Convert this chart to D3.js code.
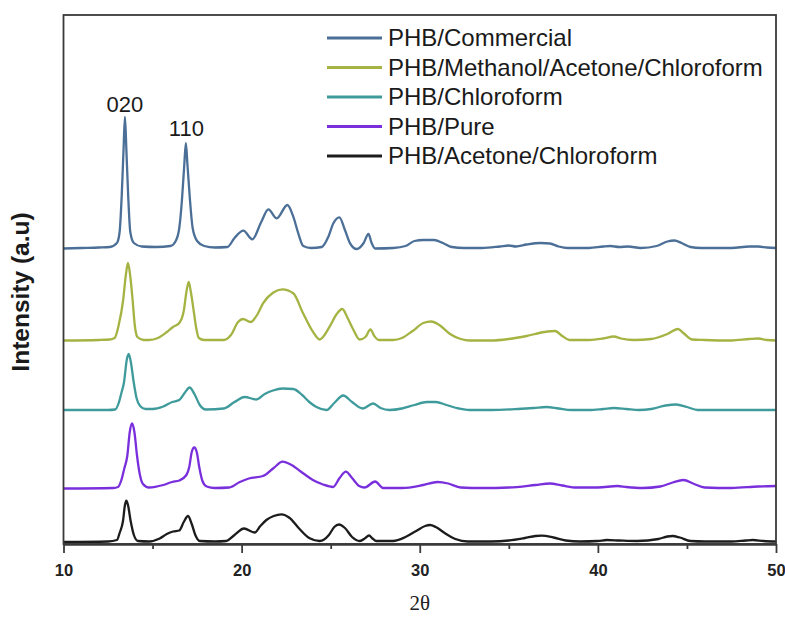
<!DOCTYPE html>
<html>
<head>
<meta charset="utf-8">
<script src="https://cdn.jsdelivr.net/npm/d3@7/dist/d3.min.js"></script>
<style>
  html, body { margin: 0; padding: 0; background: #fff; }
  svg { display: block; }
</style>
</head>
<body>
<svg id="chart" width="785" height="617"></svg>
<script>
// XRD patterns of PHB samples, [2θ (deg), intensity (a.u., stacked)]
const seriesNames = [
  "PHB/Commercial",
  "PHB/Methanol/Acetone/Chloroform",
  "PHB/Chloroform",
  "PHB/Pure",
  "PHB/Acetone/Chloroform"
];

const commercial = [
  [10, 295.5], [11, 296], [12, 296.5], [12.6, 297], [13.0, 301], [13.15, 312], [13.27, 349],
  [13.37, 394], [13.45, 427], [13.53, 394], [13.63, 349], [13.75, 312], [13.95, 301], [14.4, 297.5],
  [15.2, 297], [16.0, 298], [16.3, 303], [16.5, 316], [16.65, 344], [16.78, 379], [16.87, 401],
  [16.96, 379], [17.1, 344], [17.25, 316], [17.5, 303], [17.9, 298], [18.5, 296.5],
  [19.2, 297], [19.6, 306], [20.1, 313.3], [20.6, 304.7], [21.1, 322], [21.5, 334.7], [21.97, 325.7],
  [22.57, 339], [22.9, 327.3], [23.18, 310.7], [23.46, 298], [23.9, 296], [24.5, 297], [24.87, 307.3],
  [25.15, 320.7], [25.49, 326.7], [25.8, 314], [26.09, 300.7], [26.46, 295], [26.85, 301], [27.12, 310],
  [27.3, 301], [27.49, 295.5], [28.5, 296], [29.2, 298], [29.7, 303], [30.2, 304], [30.8, 304],
  [31.3, 301], [31.8, 297], [32.5, 296], [33.5, 296], [34.5, 297.5], [35.0, 298.5], [35.4, 297.5],
  [36.0, 299.5], [36.8, 301], [37.3, 300.5], [37.8, 297.5], [38.3, 296], [39.5, 296], [40.3, 297.5],
  [40.7, 298], [41.2, 297], [41.7, 297.5], [42.4, 296], [43.3, 298], [43.9, 302.5], [44.3, 303.5],
  [44.7, 301], [45.2, 297], [45.8, 296], [47.5, 296], [48.5, 297.5], [49.0, 297.5], [49.5, 296.5], [50, 296]
];

const methanolAcetoneChloroform = [
  [10, 203.5], [12.0, 204], [12.6, 204.5], [12.87, 206], [13.1, 219], [13.35, 244], [13.5, 269],
  [13.62, 281], [13.74, 269], [13.88, 244], [14.0, 219], [14.15, 207], [14.5, 204], [14.8, 204],
  [15.3, 206], [15.8, 212], [16.15, 217], [16.5, 221], [16.75, 233], [16.9, 252], [17.03, 262],
  [17.15, 252], [17.31, 233], [17.45, 216], [17.6, 206], [17.9, 204], [19.0, 204], [19.4, 209],
  [19.8, 222], [20.08, 225], [20.5, 222], [20.9, 230], [21.2, 240.7], [21.76, 251.3], [22.29, 254.7],
  [22.9, 250.7], [23.45, 230.7], [24.0, 212.3], [24.38, 204.5], [24.94, 217.3], [25.3, 229], [25.65, 235],
  [25.95, 226], [26.28, 214], [26.63, 204.5], [26.95, 207], [27.23, 214.5], [27.45, 208], [27.7, 204],
  [28.5, 204], [29.0, 206], [29.6, 213], [30.2, 221], [30.65, 222.5], [31.1, 219], [31.7, 210],
  [32.3, 205], [32.8, 203.5], [34.0, 203.5], [35.0, 205], [36.0, 208], [37.0, 212], [37.6, 213],
  [38.0, 208], [38.4, 204], [39.5, 204], [40.3, 205.5], [40.9, 207.5], [41.3, 205.5], [42.0, 204],
  [43.0, 205], [43.9, 210], [44.5, 215], [44.8, 211], [45.3, 204.5], [46.0, 204], [47.5, 203.5],
  [48.5, 205], [49.0, 205.5], [49.5, 204], [50, 203.5]
];

const chloroform = [
  [10, 134], [12.5, 134], [12.9, 134.5], [13.1, 141], [13.25, 151], [13.4, 162], [13.55, 184],
  [13.66, 190], [13.78, 182], [13.94, 162], [14.1, 146], [14.3, 138], [14.6, 135], [15.0, 135],
  [15.6, 137.5], [16.1, 142], [16.5, 144], [16.8, 151], [17.08, 156.5], [17.35, 150], [17.65, 139],
  [18.0, 134.5], [19.0, 135.5], [19.6, 142], [20.17, 147], [20.83, 144.5], [21.3, 150], [21.76, 153.5],
  [22.3, 155.5], [22.9, 155], [23.4, 149], [23.8, 142], [24.2, 137], [24.76, 134], [25.2, 141],
  [25.7, 148.5], [26.2, 142], [26.8, 135.5], [27.38, 140.5], [27.8, 136], [28.3, 134], [29.0, 135.5],
  [29.7, 139], [30.4, 142], [30.9, 142], [31.5, 139], [32.2, 135.5], [32.8, 134], [34.0, 134],
  [35.5, 135], [36.4, 136], [37.1, 137], [37.8, 135.5], [38.5, 134], [39.5, 134], [40.3, 135],
  [40.9, 136], [41.6, 135], [42.3, 134], [43.0, 135], [43.8, 138.5], [44.4, 139.5], [45.0, 137],
  [45.6, 134], [50, 134]
];

const pure = [
  [10, 55.5], [12.8, 56], [13.06, 57], [13.25, 64], [13.42, 76], [13.58, 88], [13.72, 112],
  [13.85, 120.5], [13.98, 112], [14.13, 88], [14.28, 70], [14.46, 60], [14.8, 56.5], [15.6, 59],
  [16.1, 62], [16.5, 63.5], [16.9, 69], [17.06, 77], [17.2, 92], [17.34, 96.5], [17.48, 92],
  [17.62, 77], [17.8, 63], [18.04, 57.5], [18.5, 56], [19.3, 56.5], [19.9, 62], [20.4, 65.5],
  [21.2, 68], [21.8, 76], [22.3, 82.3], [22.8, 79], [23.45, 70.7], [24.0, 64], [24.57, 59.5],
  [25.13, 57], [25.5, 66], [25.85, 72.3], [26.2, 66], [26.6, 58], [26.9, 56.5], [27.5, 62.5],
  [27.94, 56], [29.0, 56], [30.2, 59], [31.0, 62], [31.6, 60.5], [32.3, 56.5], [33.5, 56],
  [35.0, 56.5], [36.5, 59], [37.3, 60.5], [38.0, 58.5], [38.8, 56.5], [40.0, 56.5], [41.1, 58],
  [41.6, 57], [42.5, 56], [43.5, 57.5], [44.2, 61.5], [44.8, 64], [45.4, 60], [46.0, 56.5],
  [47.5, 56], [49.0, 57.5], [50, 58]
];

const acetoneChloroform = [
  [10, 2], [12.5, 2.5], [13.0, 4], [13.15, 11], [13.34, 23], [13.45, 39], [13.53, 43.3],
  [13.62, 39], [13.77, 23], [13.95, 9], [14.18, 3], [14.8, 2.5], [15.4, 5.5], [15.8, 10],
  [16.15, 12.5], [16.5, 13.5], [16.75, 22], [16.99, 28], [17.2, 20], [17.4, 9], [17.65, 3],
  [18.5, 2.5], [19.14, 3], [19.6, 9], [20.13, 15.5], [20.73, 11.5], [21.05, 18], [21.39, 24],
  [21.8, 28], [22.23, 29.7], [22.7, 26], [23.2, 16], [23.82, 5.7], [24.38, 3], [24.9, 9],
  [25.2, 17], [25.47, 19.5], [25.8, 16], [26.2, 7], [26.63, 3], [26.95, 6], [27.15, 8.5],
  [27.35, 5.5], [27.56, 3], [28.5, 3], [29.2, 7], [29.8, 13], [30.3, 18], [30.58, 19],
  [30.9, 17], [31.4, 11], [32.0, 5], [32.7, 2.5], [34.0, 2.5], [35.0, 3.5], [35.9, 6],
  [36.5, 8], [36.85, 8.3], [37.5, 6.5], [38.2, 3.5], [39.0, 2.5], [40.0, 3], [40.5, 4],
  [41.2, 3.5], [42.2, 3], [43.4, 5], [43.9, 7.5], [44.2, 8], [44.6, 6.5], [45.2, 3],
  [46.0, 2.5], [47.5, 2.5], [48.3, 3.5], [48.7, 4], [49.3, 3], [50, 2.5]
];

const seriesData = [commercial, methanolAcetoneChloroform, chloroform, pure, acetoneChloroform];

// Reflection labels: [text, 2θ, intensity]
const peakLabels = [["020", 13.45, 432], ["110", 16.9, 408]];

const majorTicks = [10, 20, 30, 40, 50];
const minorTicks = [15, 25, 35, 45];

// ---- drawing ----
const colors = ["#4b6f97", "#a4b342", "#3f9b9b", "#7a2fdc", "#1c1c1c"];

const svg = d3.select("#chart");
const plot = { left: 63.5, right: 776, top: 15, bottom: 544 };

const x = d3.scaleLinear().domain([10, 50]).range([plot.left, plot.right]);
const y = d3.scaleLinear().domain([0, 529]).range([plot.bottom, plot.top]);

const line = d3.line()
  .x(d => x(d[0]))
  .y(d => y(d[1]))
  .curve(d3.curveMonotoneX);

const curves = svg.append("g");
seriesData.forEach((s, i) => {
  curves.append("path")
    .datum(s)
    .attr("d", line)
    .attr("fill", "none")
    .attr("stroke", colors[i])
    .attr("stroke-width", 2.3)
    .attr("stroke-linejoin", "round");
});

// frame
svg.append("rect")
  .attr("x", plot.left).attr("y", plot.top)
  .attr("width", plot.right - plot.left).attr("height", plot.bottom - plot.top)
  .attr("fill", "none").attr("stroke", "#3a3a3a").attr("stroke-width", 1.8);

// bottom axis: labelled major ticks and short minor ticks
const axMajor = svg.append("g")
  .attr("transform", `translate(0,${plot.bottom})`)
  .call(d3.axisBottom(x).tickValues(majorTicks).tickFormat(d3.format("d"))
    .tickSize(9).tickSizeOuter(0).tickPadding(11));
const axMinor = svg.append("g")
  .attr("transform", `translate(0,${plot.bottom})`)
  .call(d3.axisBottom(x).tickValues(minorTicks).tickFormat("")
    .tickSize(5).tickSizeOuter(0));
[axMajor, axMinor].forEach(g => {
  g.select(".domain").attr("stroke", "#3a3a3a").attr("stroke-width", 1.8);
  g.selectAll(".tick line").attr("stroke", "#3a3a3a").attr("stroke-width", 1.8);
});
axMajor.selectAll(".tick text")
  .attr("fill", "#222")
  .style("font-family", "'Liberation Sans', Arial, sans-serif")
  .style("font-size", "16.5px")
  .style("font-weight", "bold");

// axis titles
svg.append("text")
  .attr("x", x(30)).attr("y", 610)
  .attr("text-anchor", "middle")
  .style("font-family", "'Liberation Serif', 'Times New Roman', serif")
  .style("font-size", "21px")
  .attr("fill", "#222")
  .text("2θ");

svg.append("text")
  .attr("transform", "translate(29,292) rotate(-90)")
  .attr("text-anchor", "middle")
  .style("font-family", "'Liberation Sans', Arial, sans-serif")
  .style("font-size", "24.5px")
  .style("font-weight", "bold")
  .attr("fill", "#1a1a1a")
  .text("Intensity (a.u)");

// peak labels
svg.append("g").selectAll("text")
  .data(peakLabels)
  .join("text")
  .attr("x", d => x(d[1]))
  .attr("y", d => y(d[2]))
  .attr("text-anchor", "middle")
  .style("font-family", "'Liberation Sans', Arial, sans-serif")
  .style("font-size", "22px")
  .attr("fill", "#1a1a1a")
  .text(d => d[0]);

// legend
const legend = svg.append("g").attr("transform", "translate(327,38)");
const rows = legend.selectAll("g")
  .data(seriesNames)
  .join("g")
  .attr("transform", (d, i) => `translate(0,${i * 29.5})`);
rows.append("line")
  .attr("x1", 0).attr("x2", 55)
  .attr("stroke", (d, i) => colors[i])
  .attr("stroke-width", 3);
rows.append("text")
  .attr("x", 61).attr("y", 8)
  .style("font-family", "'Liberation Sans', Arial, sans-serif")
  .style("font-size", "24px")
  .attr("fill", "#1a1a1a")
  .text(d => d);
</script>
</body>
</html>
